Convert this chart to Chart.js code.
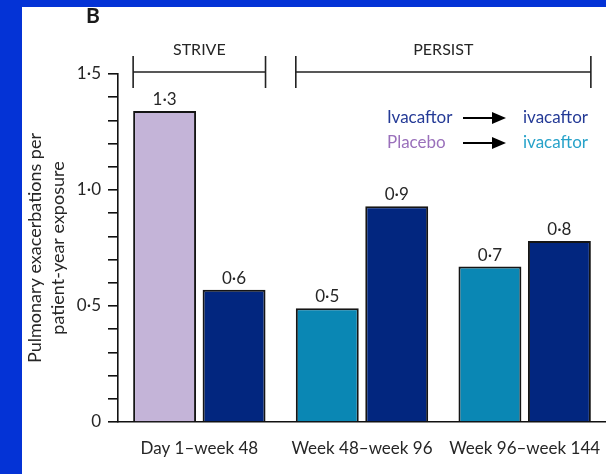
<!DOCTYPE html>
<html>
<head>
<meta charset="utf-8">
<script src="https://cdn.jsdelivr.net/npm/chart.js@4.4.1/dist/chart.umd.min.js"></script>
<style>
  html, body { margin: 0; padding: 0; background: #0433d6; }
  #wrap { width: 606px; height: 474px; position: relative; }
</style>
</head>
<body>
<div id="wrap"><canvas id="c" width="606" height="474"></canvas></div>
<script>
// Pulmonary exacerbation rates (per patient-year of exposure)
const periods = ['Day 1–week 48', 'Week 48–week 96', 'Week 96–week 144'];
// first bar in each period: placebo in STRIVE, then placebo → ivacaftor in PERSIST
const firstArmRates = [1.34, 0.49, 0.67];
// second bar: ivacaftor → ivacaftor
const ivacaftorRates = [0.57, 0.93, 0.78];
const yLabelValues = [0, 0.5, 1.0, 1.5];
const studies = [
  { name: 'STRIVE', from: 0, to: 0 },
  { name: 'PERSIST', from: 1, to: 2 }
];

const LAVENDER = '#c4b4d8';
const TEAL = '#0a87b4';
const NAVY = '#02267f';
const INK = '#262626';
const FONT = 'Lato, "Open Sans", sans-serif';

const fmt = v => (v === 0 ? '0' : v.toFixed(1).replace('.', '·'));

const decorations = {
  id: 'decorations',
  beforeDraw(chart) {
    const { ctx, width, height } = chart;
    ctx.save();
    ctx.fillStyle = '#0433d6';
    ctx.fillRect(0, 0, width, height);
    ctx.fillStyle = '#ffffff';
    ctx.fillRect(22, 7, width - 22, height - 7);
    ctx.restore();
  },
  afterDatasetsDraw(chart) {
    const { ctx, chartArea } = chart;
    const m0 = chart.getDatasetMeta(0).data;
    const m1 = chart.getDatasetMeta(1).data;
    ctx.save();

    // panel letter
    ctx.fillStyle = '#1a1a1a';
    ctx.font = 'bold 21px ' + FONT;
    ctx.textAlign = 'left';
    ctx.textBaseline = 'middle';
    ctx.fillText('B', 86, 16);

    // study brackets
    const by = chartArea.top - 2;
    ctx.strokeStyle = '#222';
    ctx.lineWidth = 1.6;
    ctx.fillStyle = INK;
    ctx.font = '16px ' + FONT;
    ctx.textAlign = 'center';
    ctx.textBaseline = 'middle';
    studies.forEach(s => {
      const a = m0[s.from], b = m1[s.to];
      const x1 = a.x - a.width / 2;
      const x2 = b.x + b.width / 2;
      ctx.beginPath();
      ctx.moveTo(x1, by); ctx.lineTo(x2, by);
      ctx.moveTo(x1, by - 16); ctx.lineTo(x1, by + 16);
      ctx.moveTo(x2, by - 16); ctx.lineTo(x2, by + 16);
      ctx.stroke();
      ctx.fillText(s.name, (x1 + x2) / 2, by - 22);
    });

    // value labels above bars
    ctx.fillStyle = INK;
    ctx.font = '17px ' + FONT;
    ctx.textBaseline = 'bottom';
    [[m0, firstArmRates], [m1, ivacaftorRates]].forEach(([els, vals]) => {
      els.forEach((el, i) => ctx.fillText(fmt(vals[i]), el.x, el.y - 3));
    });

    // legend
    const rows = [
      { from: 'Ivacaftor', fromColor: '#243a96', to: 'ivacaftor', toColor: '#243a96', y: 118 },
      { from: 'Placebo', fromColor: '#9a70bb', to: 'ivacaftor', toColor: '#27a2c9', y: 143 }
    ];
    ctx.font = '17px ' + FONT;
    ctx.textAlign = 'left';
    ctx.textBaseline = 'middle';
    rows.forEach(r => {
      ctx.fillStyle = r.fromColor;
      ctx.fillText(r.from, 387, r.y);
      ctx.strokeStyle = '#000';
      ctx.lineWidth = 2;
      ctx.beginPath();
      ctx.moveTo(463, r.y); ctx.lineTo(494, r.y);
      ctx.stroke();
      ctx.fillStyle = '#000';
      ctx.beginPath();
      ctx.moveTo(492, r.y - 6); ctx.lineTo(506, r.y); ctx.lineTo(492, r.y + 6);
      ctx.closePath();
      ctx.fill();
      ctx.fillStyle = r.toColor;
      ctx.fillText(r.to, 523, r.y);
    });

    ctx.restore();
  }
};

new Chart(document.getElementById('c'), {
  type: 'bar',
  data: {
    labels: periods,
    datasets: [
      {
        data: firstArmRates,
        backgroundColor: firstArmRates.map((_, i) => (i === 0 ? LAVENDER : TEAL)),
        borderColor: '#151515',
        borderWidth: 2,
        borderSkipped: 'bottom'
      },
      {
        data: ivacaftorRates,
        backgroundColor: NAVY,
        borderColor: '#151515',
        borderWidth: 2,
        borderSkipped: 'bottom'
      }
    ]
  },
  options: {
    responsive: false,
    animation: false,
    devicePixelRatio: 1,
    categoryPercentage: 0.854,
    barPercentage: 0.906,
    layout: { padding: { top: 74, left: 0, right: 0, bottom: 0 } },
    plugins: { legend: { display: false }, tooltip: { enabled: false } },
    scales: {
      x: {
        grid: { display: false },
        border: { display: true, color: '#111', width: 1.6 },
        ticks: { color: INK, font: { family: FONT, size: 17 }, padding: 8, maxRotation: 0, autoSkip: false },
        afterFit(scale) {
          scale.height = 52;
          // let the last period label run to the canvas edge
          scale.paddingLeft = 0;
          scale.paddingRight = 0;
        }
      },
      y: {
        min: 0,
        max: 1.5,
        grid: { drawOnChartArea: false, drawTicks: true, tickLength: 10, color: '#111', lineWidth: 1.6 },
        border: { display: true, color: '#111', width: 1.6 },
        ticks: {
          stepSize: 0.1,
          autoSkip: false,
          padding: 7,
          color: INK,
          font: { family: FONT, size: 17 },
          callback(v) {
            const hit = yLabelValues.find(t => Math.abs(t - v) < 1e-6);
            return hit === undefined ? '' : fmt(hit);
          }
        },
        title: {
          display: true,
          text: ['Pulmonary exacerbations per', 'patient-year exposure'],
          color: INK,
          font: { family: FONT, size: 18, lineHeight: 1.3 },
          padding: { top: 23, bottom: 0 }
        },
        afterFit(scale) { scale.width = 118; }
      }
    }
  },
  plugins: [decorations]
});
</script>
</body>
</html>
